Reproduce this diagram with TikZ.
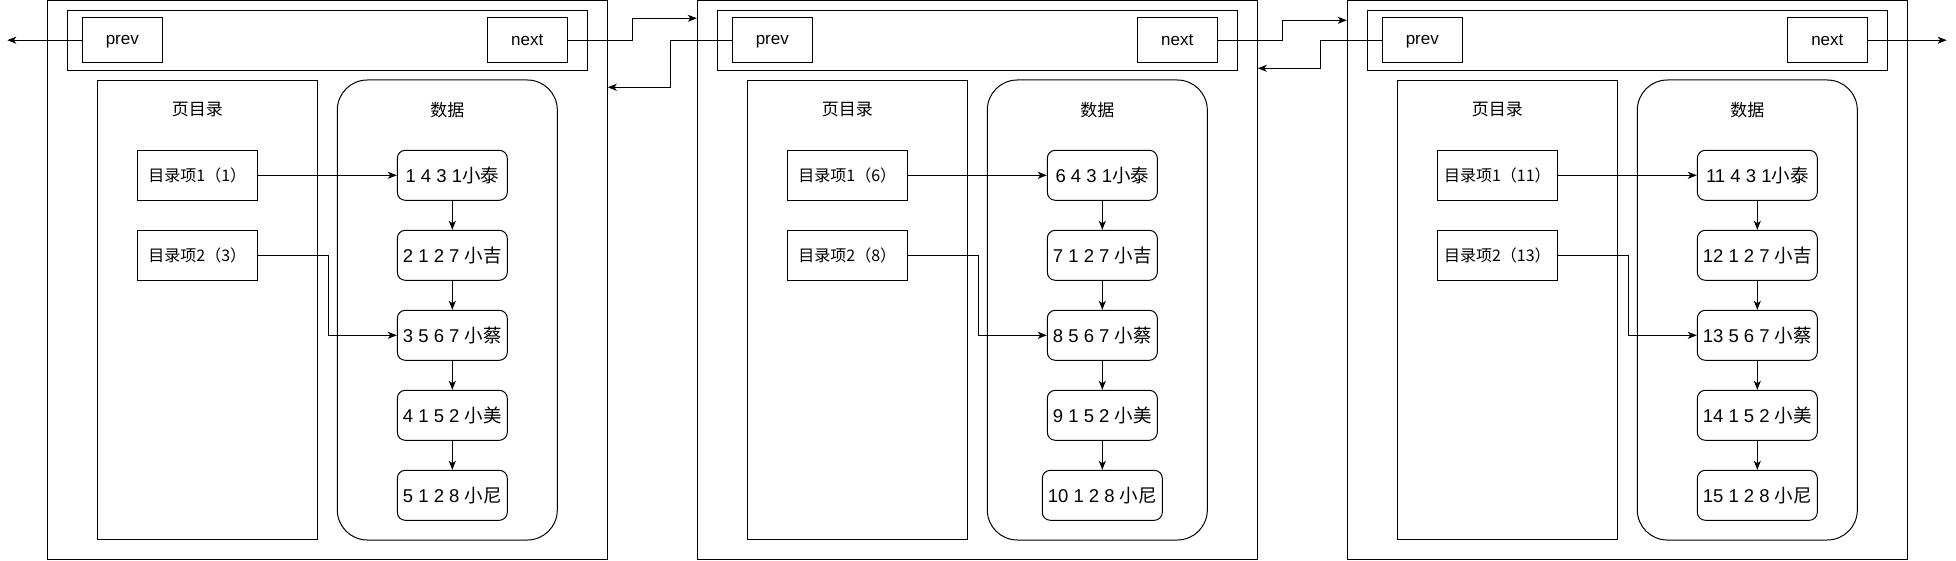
\documentclass[tikz,border=0pt]{standalone}
\usepackage{fontspec}
\setmainfont{Liberation Sans}
\newfontfamily\cjk{Noto Sans CJK SC}
\usepackage{tikz}
\usetikzlibrary{positioning, arrows.meta}
\newcommand{\zh}[1]{{\cjk #1}}

\tikzset{
	pagebox/.style={draw, inner sep=0pt, minimum width=560pt, minimum height=559pt},
	hdrbox/.style={draw, inner sep=0pt, minimum width=520pt, minimum height=60pt},
	ptrbox/.style={draw, inner sep=0pt, text depth=0pt, minimum width=80pt, minimum height=45pt, font=\fontsize{17}{20}\selectfont},
	dirbox/.style={draw, inner sep=0pt, minimum width=220pt, minimum height=459pt},
	databox/.style={draw, inner sep=0pt, rounded corners=30pt, minimum width=220pt, minimum height=460pt},
	title/.style={inner sep=0pt, font=\fontsize{17}{20}\cjk},
	item/.style={draw, inner sep=0pt, minimum width=120pt, minimum height=50pt, font=\fontsize{16}{19}\cjk},
	rec/.style={draw, inner sep=0pt, rounded corners=8pt, minimum width=110pt, minimum height=50pt, font=\fontsize{18.5}{22}\selectfont},
	arr/.style={-{Stealth[length=9pt, width=7pt, inset=2.5pt]}},
}

\begin{document}
\begin{tikzpicture}[x=1pt, y=-1pt, line width=1pt, node distance=80pt]
			\useasboundingbox (0,0) rectangle (1956,561);
			% page 1
			\node[pagebox] (pg1) at (327.3,280) {};
			\node[hdrbox] (hd1) at (327.3,40.3) {};
			\node[ptrbox] (pv1) at (122.3,40.2) {prev};
			\node[ptrbox] (nx1) at (527.3,40.2) {next};
			\node[dirbox] (ml1) at (207.3,309.8) {};
			\node[databox] (sj1) at (447.3,310) {};
			\node[title] (t11) at (197.3,110) {页目录};
			\node[title] (t12) at (447.3,110) {数据};
			\node[item] (d11) at (197.3,175.3) {目录项1（1）};
			\node[item, below of = d11] (d12) {目录项2（3）};
			\node[rec] (r11) at (452.3,175.3) {1 4 3 1\zh{小泰}};
			\node[rec, below of = r11] (r12) {2 1 2 7 \zh{小吉}};
			\node[rec, below of = r12] (r13) {3 5 6 7 \zh{小蔡}};
			\node[rec, below of = r13] (r14) {4 1 5 2 \zh{小美}};
			\node[rec, below of = r14] (r15) {5 1 2 8 \zh{小尼}};
			\draw[arr] (d11) -- (r11);
			\draw[arr] (d12.east) -- ++(70.4,0) |- (r13.west);
			\draw[arr] (r11) -- (r12);
			\draw[arr] (r12) -- (r13);
			\draw[arr] (r13) -- (r14);
			\draw[arr] (r14) -- (r15);
			% page 2
			\node[pagebox] (pg2) at (977.3,280) {};
			\node[hdrbox] (hd2) at (977.3,40.3) {};
			\node[ptrbox] (pv2) at (772.3,40.2) {prev};
			\node[ptrbox] (nx2) at (1177.3,40.2) {next};
			\node[dirbox] (ml2) at (857.3,309.8) {};
			\node[databox] (sj2) at (1097.3,310) {};
			\node[title] (t21) at (847.3,110) {页目录};
			\node[title] (t22) at (1097.3,110) {数据};
			\node[item] (d21) at (847.3,175.3) {目录项1（6）};
			\node[item, below of = d21] (d22) {目录项2（8）};
			\node[rec] (r21) at (1102.3,175.3) {6 4 3 1\zh{小泰}};
			\node[rec, below of = r21] (r22) {7 1 2 7 \zh{小吉}};
			\node[rec, below of = r22] (r23) {8 5 6 7 \zh{小蔡}};
			\node[rec, below of = r23] (r24) {9 1 5 2 \zh{小美}};
			\node[rec, below of = r24, minimum width=120pt] (r25) {10 1 2 8 \zh{小尼}};
			\draw[arr] (d21) -- (r21);
			\draw[arr] (d22.east) -- ++(70.4,0) |- (r23.west);
			\draw[arr] (r21) -- (r22);
			\draw[arr] (r22) -- (r23);
			\draw[arr] (r23) -- (r24);
			\draw[arr] (r24) -- (r25);
			% page 3
			\node[pagebox] (pg3) at (1627.3,280) {};
			\node[hdrbox] (hd3) at (1627.3,40.3) {};
			\node[ptrbox] (pv3) at (1422.3,40.2) {prev};
			\node[ptrbox] (nx3) at (1827.3,40.2) {next};
			\node[dirbox] (ml3) at (1507.3,309.8) {};
			\node[databox] (sj3) at (1747.3,310) {};
			\node[title] (t31) at (1497.3,110) {页目录};
			\node[title] (t32) at (1747.3,110) {数据};
			\node[item] (d31) at (1497.3,175.3) {目录项1（11）};
			\node[item, below of = d31] (d32) {目录项2（13）};
			\node[rec, minimum width=120pt] (r31) at (1757.3,175.3) {11 4 3 1\zh{小泰}};
			\node[rec, below of = r31, minimum width=120pt] (r32) {12 1 2 7 \zh{小吉}};
			\node[rec, below of = r32, minimum width=120pt] (r33) {13 5 6 7 \zh{小蔡}};
			\node[rec, below of = r33, minimum width=120pt] (r34) {14 1 5 2 \zh{小美}};
			\node[rec, below of = r34, minimum width=120pt] (r35) {15 1 2 8 \zh{小尼}};
			\draw[arr] (d31) -- (r31);
			\draw[arr] (d32.east) -- ++(70.4,0) |- (r33.west);
			\draw[arr] (r31) -- (r32);
			\draw[arr] (r32) -- (r33);
			\draw[arr] (r33) -- (r34);
			\draw[arr] (r34) -- (r35);
			% links between pages
			\coordinate (lend) at (7.3,40.2);
			\coordinate (rend) at (1946.7,40.2);
			\draw[arr] (pv1.west) -- (lend);
			\draw[arr] (nx1.east) -- ++(65,0) |- (pg2.west |- 0,18.3);
			\draw[arr] (pv2.west) -| (670,87.3) -- (pg1.east |- 0,87.3);
			\draw[arr] (nx2.east) -- ++(65,0) |- (pg3.west |- 0,20.3);
			\draw[arr] (pv3.west) -| (1320,68.3) -- (pg2.east |- 0,68.3);
			\draw[arr] (nx3.east) -- (rend);
		\end{tikzpicture}
\end{document}
